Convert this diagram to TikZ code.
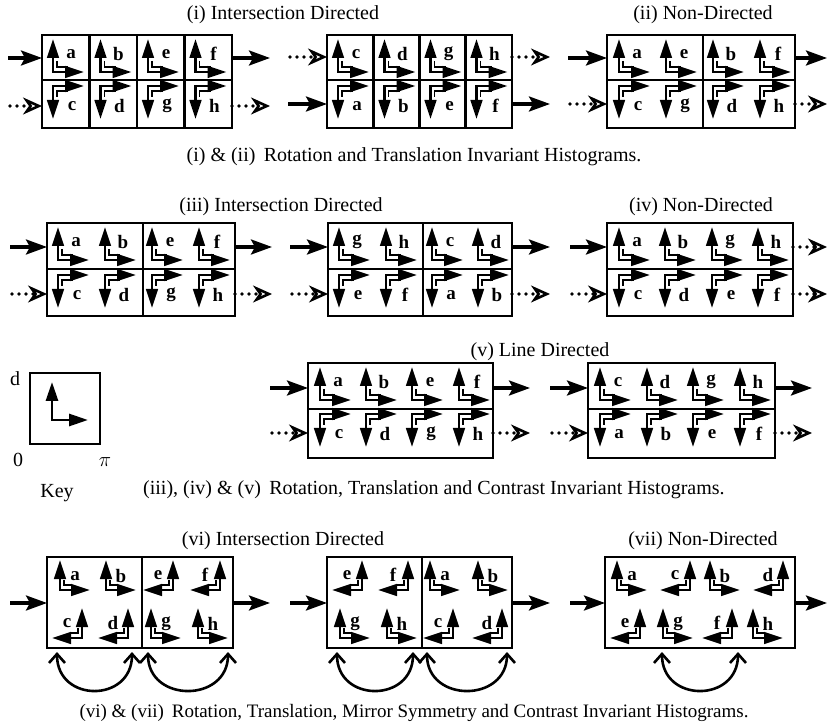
\documentclass[tikz,border=0pt]{standalone}
\usepackage{fontspec}
\setmainfont{Liberation Serif}
\usetikzlibrary{arrows.meta}
\newcount\gcnt
\tikzset{
 gl/.style={line width=2.9pt, line join=miter, {Triangle[length=19pt,width=11.5pt]}-{Triangle[length=19pt,width=11.5pt]}},
 keygl/.style={line width=2.9pt, line join=miter, {Triangle[length=19pt,width=12pt]}-{Triangle[length=19pt,width=12pt]}},
 gin/.style={line width=1.8pt},
 lbl/.style={font=\fontsize{19}{19}\selectfont\bfseries, inner sep=0pt},
 boxl/.style={line width=2.7pt},
 sarr/.style={line width=3.2pt, -{Stealth[length=21pt,width=15pt,inset=4pt]}},
 darr/.style={line width=3.6pt, line cap=round, dash pattern=on 0pt off 7pt, -{Stealth[open,length=19pt,width=17pt,inset=6pt,line width=2.6pt]}},
 arcl/.style={line width=2.6pt, {Straight Barb[length=9pt,width=16pt,line width=2.6pt]}-{Straight Barb[length=9pt,width=16pt,line width=2.6pt]}},
 ttl/.style={font=\fontsize{20}{22}\selectfont, inner sep=0pt},
}
% up glyph (rows i-v)
\newcommand\gUp[3]{%
 \draw[gl] (#1,#2-33) -- (#1,#2) -- (#1+31,#2);
 \draw[gin] (#1+4,#2-11) -- (#1+4,#2-5) -- (#1+15,#2-5);
 \global\advance\gcnt by 1
 \node[lbl] (g\the\gcnt) at (#1+18,#2-18) {#3};}
% down glyph
\newcommand\gDn[3]{%
 \draw[gl] (#1,#2+33) -- (#1,#2) -- (#1+31,#2);
 \draw[gin] (#1+4,#2+11) -- (#1+4,#2+5) -- (#1+15,#2+5);
 \global\advance\gcnt by 1
 \node[lbl] (g\the\gcnt) at (#1+19,#2+20) {#3};}
% up-right glyph (rows vi-vii)
\newcommand\gUR[3]{%
 \draw[gl] (#1,#2-30) -- (#1,#2) -- (#1+30,#2);
 \draw[gin] (#1+4,#2-10) -- (#1+4,#2-5) -- (#1+12,#2-5);
 \global\advance\gcnt by 1
 \node[lbl] (g\the\gcnt) at (#1+15,#2-14) {#3};}
% up-left glyph
\newcommand\gUL[3]{%
 \draw[gl] (#1,#2-30) -- (#1,#2) -- (#1-30,#2);
 \draw[gin] (#1-4,#2-10) -- (#1-4,#2-5) -- (#1-12,#2-5);
 \global\advance\gcnt by 1
 \node[lbl] (g\the\gcnt) at (#1-15,#2-15) {#3};}
\newcommand\sA[3]{\coordinate (sa\the\gcnt) at (#1,#3); \coordinate (sb\the\gcnt) at (#2,#3); \draw[sarr] (sa\the\gcnt) -- (sb\the\gcnt);}
\newcommand\dA[3]{\coordinate (da\the\gcnt) at (#1,#3); \coordinate (db\the\gcnt) at (#2,#3); \draw[darr] (da\the\gcnt) -- (db\the\gcnt);}
\begin{document}
\begin{tikzpicture}[x=1pt,y=-1pt]
\useasboundingbox (0,0) rectangle (828,727);

% ---------- titles and captions
\node[ttl] (t1) at (283,15) {(i) Intersection Directed};
\node[ttl] (t2) at (703,15) {(ii) Non-Directed};
\node[ttl] (c1) at (414,157) {(i) \& (ii)\, Rotation and Translation Invariant Histograms.};
\node[ttl] (t3) at (281,207) {(iii) Intersection Directed};
\node[ttl] (t4) at (701,207) {(iv) Non-Directed};
\node[ttl] (t5) at (540,352) {(v) Line Directed};
\node[ttl,anchor=west] (c2) at (143,490) {(iii), (iv) \& (v)\, Rotation, Translation and Contrast Invariant Histograms.};
\node[ttl] (t6) at (283,541) {(vi) Intersection Directed};
\node[ttl] (t7) at (703,541) {(vii) Non-Directed};
\node[ttl,font=\fontsize{19}{21}\selectfont] (c3) at (414,713) {(vi) \& (vii)\, Rotation, Translation, Mirror Symmetry and Contrast Invariant Histograms.};

% ---------- row 1
\draw[boxl] (42,35) rectangle (232,128);
\draw[boxl] (42,80) -- (232,80);
\foreach \x in {89.5,137,184.5} \draw[boxl] (\x,35) -- (\x,128);
\gUp{53}{72}{a}\gUp{100.5}{72}{b}\gUp{148}{72}{e}\gUp{195.5}{72}{f}
\gDn{53}{86}{c}\gDn{100.5}{86}{d}\gDn{148}{86}{g}\gDn{195.5}{86}{h}
\sA{8}{42}{58}\sA{232}{270}{58}
\dA{10}{42}{106}\dA{232}{270}{106}

\draw[boxl] (327,35) rectangle (512,128);
\draw[boxl] (327,80) -- (512,80);
\foreach \x in {373.25,419.5,465.75} \draw[boxl] (\x,35) -- (\x,128);
\gUp{338}{72}{c}\gUp{384.5}{72}{d}\gUp{430.5}{72}{g}\gUp{476.5}{72}{h}
\gDn{338}{86}{a}\gDn{384.5}{86}{b}\gDn{430.5}{86}{e}\gDn{476.5}{86}{f}
\dA{290}{327}{57}\dA{512}{550}{57}
\sA{288}{327}{104}\sA{512}{550}{104}

\draw[boxl] (607,35) rectangle (795,128);
\draw[boxl] (607,80) -- (795,80);
\draw[boxl] (703,35) -- (703,128);
\gUp{619}{72}{a}\gUp{666}{72}{e}\gUp{713}{72}{b}\gUp{760}{72}{f}
\gDn{619}{86}{c}\gDn{666}{86}{g}\gDn{713}{86}{d}\gDn{760}{86}{h}
\sA{568}{607}{58}\sA{795}{827}{58}
\dA{570}{607}{104}\dA{795}{827}{104}

% ---------- row 2
\draw[boxl] (47,223) rectangle (235,316);
\draw[boxl] (47,269) -- (235,269);
\draw[boxl] (143,223) -- (143,316);
\gUp{58}{260}{a}\gUp{105}{260}{b}\gUp{152}{260}{e}\gUp{199}{260}{f}
\gDn{58}{275}{c}\gDn{105}{275}{d}\gDn{152}{275}{g}\gDn{199}{275}{h}
\sA{10}{47}{247}\sA{235}{272}{247}
\dA{12}{47}{294}\dA{235}{272}{294}

\draw[boxl] (328,223) rectangle (512,316);
\draw[boxl] (328,269) -- (512,269);
\draw[boxl] (423,223) -- (423,316);
\gUp{339}{260}{g}\gUp{386}{260}{h}\gUp{432}{260}{c}\gUp{478}{260}{d}
\gDn{339}{275}{e}\gDn{386}{275}{f}\gDn{432}{275}{a}\gDn{478}{275}{b}
\sA{290}{328}{247}\sA{512}{550}{247}
\dA{292}{328}{294}\dA{512}{550}{294}

\draw[boxl] (607,223) rectangle (793,316);
\draw[boxl] (607,269) -- (793,269);
\gUp{619}{260}{a}\gUp{665}{260}{b}\gUp{712}{260}{g}\gUp{758}{260}{h}
\gDn{619}{275}{c}\gDn{665}{275}{d}\gDn{712}{275}{e}\gDn{758}{275}{f}
\sA{570}{607}{247}\dA{793}{827}{247}
\dA{572}{607}{294}\dA{793}{827}{294}

% ---------- key
\draw[boxl] (30,373) rectangle (100,444);
\draw[keygl] (52,382) -- (52,420) -- (88,420);
\node[ttl] (kd) at (15,379) {d};
\node[ttl] (k0) at (18,460) {0};
\node[ttl] (kp) at (105,462) {$\pi$};
\node[ttl] (kk) at (57,493) {Key};

% ---------- (v)
\draw[boxl] (308,363) rectangle (493,458);
\draw[boxl] (308,409) -- (493,409);
\gUp{320}{400}{a}\gUp{366}{400}{b}\gUp{412}{400}{e}\gUp{459}{400}{f}
\gDn{320}{414}{c}\gDn{366}{414}{d}\gDn{412}{414}{g}\gDn{459}{414}{h}
\sA{270}{308}{388}\sA{493}{530}{388}
\dA{272}{308}{433}\dA{493}{530}{433}

\draw[boxl] (588,363) rectangle (775,458);
\draw[boxl] (588,409) -- (775,409);
\gUp{600}{400}{c}\gUp{647}{400}{d}\gUp{693}{400}{g}\gUp{740}{400}{h}
\gDn{600}{414}{a}\gDn{647}{414}{b}\gDn{693}{414}{e}\gDn{740}{414}{f}
\sA{550}{588}{388}\sA{775}{812}{388}
\dA{552}{588}{433}\dA{775}{812}{433}

% ---------- row 3
\draw[boxl] (47,557) rectangle (233,648);
\draw[boxl] (142,557) -- (142,648);
\gUR{60}{590}{a}\gUR{106}{590}{b}\gUL{173}{590}{e}\gUL{220}{590}{f}
\gUL{82}{638}{c}\gUL{128}{638}{d}\gUR{151}{638}{g}\gUR{198}{638}{h}
\sA{10}{47}{603}\sA{233}{270}{603}
\draw[arcl] (57,652) .. controls (57,703) and (132,703) .. (132,652);
\draw[arcl] (148,652) .. controls (148,703) and (228,703) .. (228,652);

\draw[boxl] (327,557) rectangle (512,648);
\draw[boxl] (422,557) -- (422,648);
\gUL{362}{590}{e}\gUL{408}{590}{f}\gUR{430}{590}{a}\gUR{478}{590}{b}
\gUR{340}{638}{g}\gUR{387}{638}{h}\gUL{453}{638}{c}\gUL{502}{638}{d}
\sA{290}{327}{603}\sA{512}{550}{603}
\draw[arcl] (337,652) .. controls (337,703) and (413,703) .. (413,652);
\draw[arcl] (427,652) .. controls (427,703) and (507,703) .. (507,652);

\draw[boxl] (605,557) rectangle (795,648);
\gUR{617}{590}{a}\gUL{690}{590}{c}\gUR{710}{590}{b}\gUL{783}{590}{d}
\gUL{640}{638}{e}\gUR{663}{638}{g}\gUL{732}{638}{f}\gUR{753}{638}{h}
\sA{570}{605}{603}\sA{795}{827}{603}
\draw[arcl] (662,652) .. controls (662,703) and (738,703) .. (738,652);
\end{tikzpicture}
\end{document}
